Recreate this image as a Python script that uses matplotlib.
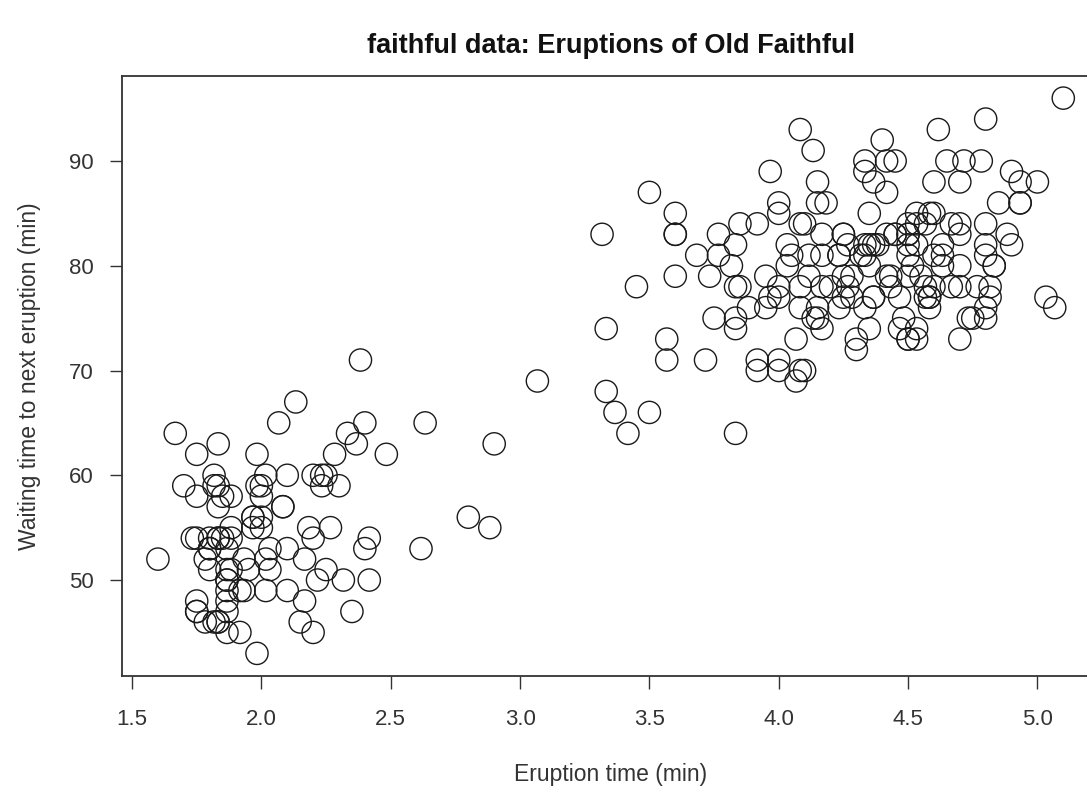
import matplotlib
matplotlib.use("Agg")
import matplotlib.pyplot as plt

eruptions = [3.600,1.800,3.333,2.283,4.533,2.883,4.700,3.600,1.950,4.350,1.833,3.917,4.200,1.750,4.700,2.167,1.750,4.800,1.600,4.250,
1.800,1.750,3.450,3.067,4.533,3.600,1.967,4.083,3.850,4.433,4.300,4.467,3.367,4.033,3.833,2.017,1.867,4.833,1.833,4.783,
4.350,1.883,4.567,1.750,4.533,3.317,3.833,2.100,4.633,2.000,4.800,4.716,1.833,4.833,1.733,4.883,3.717,1.667,4.567,4.317,
2.233,4.500,1.750,4.800,1.817,4.400,4.167,4.700,2.067,4.700,4.033,1.967,4.500,4.000,1.983,5.067,2.017,4.567,3.883,3.600,
4.133,4.333,4.100,2.633,4.067,4.933,3.950,4.517,2.167,4.000,2.200,4.333,1.867,4.817,1.833,4.300,4.667,3.750,1.867,4.900,
2.483,4.367,2.100,4.500,4.050,1.867,4.700,1.783,4.850,3.683,4.733,2.300,4.900,4.417,1.700,4.633,2.317,4.600,1.817,4.417,
2.617,4.067,4.250,1.967,4.600,3.767,1.917,4.500,2.267,4.650,1.867,4.167,2.800,4.333,1.833,4.383,1.883,4.933,2.033,3.733,
4.233,2.233,4.533,4.817,4.333,1.983,4.633,2.017,5.100,1.800,5.033,4.000,2.400,4.600,3.567,4.000,4.500,4.083,1.800,3.967,
2.200,4.150,2.000,3.833,3.500,4.583,2.367,5.000,1.933,4.617,1.917,2.083,4.583,3.333,4.167,4.333,4.500,2.417,4.000,4.167,
1.883,4.583,4.250,3.767,2.033,4.433,4.083,1.833,4.417,2.183,4.800,1.833,4.800,4.100,3.966,4.233,3.500,4.366,2.250,4.667,
2.100,4.350,4.133,1.867,4.600,1.783,4.367,3.850,1.933,4.500,2.383,4.700,1.867,3.833,3.417,4.233,2.400,4.800,2.000,4.150,
1.867,4.267,1.750,4.483,4.000,4.117,4.083,4.267,3.917,4.550,4.083,2.417,4.183,2.217,4.450,1.883,1.850,4.283,3.950,2.333,
4.150,2.350,4.933,2.900,4.583,3.833,2.083,4.367,2.133,4.350,2.200,4.450,3.567,4.500,4.150,3.817,3.917,4.450,2.000,4.283,
4.767,4.533,1.850,4.250,1.983,2.250,4.750,4.117,2.150,4.417,1.817,4.467]
waiting = [79,54,74,62,85,55,88,85,51,85,54,84,78,47,83,52,62,84,52,79,
51,47,78,69,74,83,55,76,78,79,73,77,66,80,74,52,48,80,59,90,
80,58,84,58,73,83,64,53,82,59,75,90,54,80,54,83,71,64,77,81,
59,84,48,82,60,92,78,78,65,73,82,56,79,71,62,76,60,78,76,83,
75,82,70,65,73,88,76,80,48,86,60,90,50,78,63,72,84,75,51,82,
62,88,49,83,81,47,84,52,86,81,75,59,89,79,59,81,50,85,59,87,
53,69,77,56,88,81,45,82,55,90,45,83,56,89,46,82,51,86,53,79,
81,60,82,77,76,59,80,49,96,53,77,77,65,81,71,70,81,93,53,89,
45,86,58,78,66,76,63,88,52,93,49,57,77,68,81,81,73,50,85,74,
55,77,83,83,51,78,84,46,83,55,81,57,76,84,77,81,87,77,51,78,
60,82,91,53,78,46,77,84,49,83,71,80,49,75,64,76,53,94,55,76,
50,82,54,75,78,79,78,78,70,79,70,54,86,50,90,54,54,77,79,64,
75,47,86,63,85,82,57,82,67,74,54,83,73,73,88,80,71,83,56,79,
78,84,58,83,43,60,75,81,46,90,46,74]

title = "faithful data: Eruptions of Old Faithful"
xlabel = "Eruption time (min)"
ylabel = "Waiting time to next eruption (min)"
xticks = [1.5, 2.0, 2.5, 3.0, 3.5, 4.0, 4.5, 5.0]
yticks = [50, 60, 70, 80, 90]

plt.rcParams['font.family'] = ['Liberation Sans', 'DejaVu Sans']

W, H = 1087, 790
fig = plt.figure(figsize=(W/100, H/100), dpi=100)
L, R, T, B = 121.7, 1099.5, 75.9, 675.6
ax = fig.add_axes([L/W, 1 - B/H, (R-L)/W, (B-T)/H])

ax.scatter(eruptions, waiting, s=16**2, facecolors='none', edgecolors='#1a1a1a', linewidths=1.0)

xmin, xmax = min(eruptions), max(eruptions)
ymin, ymax = min(waiting), max(waiting)
dx, dy = (xmax-xmin)*0.04, (ymax-ymin)*0.04
ax.set_xlim(xmin-dx, xmax+dx)
ax.set_ylim(ymin-dy, ymax+dy)

ax.set_xticks(xticks)
ax.set_xticklabels([f"{v:.1f}" for v in xticks])
ax.set_yticks(yticks)
ax.set_yticklabels([str(v) for v in yticks])
ax.tick_params(direction='out', length=9, width=1.0, color='#333333', labelsize=16, labelcolor='#333333')
ax.tick_params(axis='x', pad=15)
ax.tick_params(axis='y', pad=11)
for s in ax.spines.values():
    s.set_linewidth(1.3)
    s.set_color('#333333')

fig.text((L+R)/2/W, 1-46/H, title, ha='center', va='center', fontsize=19.5, fontweight='bold', color='#111111')
fig.text((L+R)/2/W, 1-775/H, xlabel, ha='center', va='center', fontsize=16.5, color='#333333')
fig.text(30/W, 1-(T+B)/2/H, ylabel, ha='center', va='center', rotation=90, fontsize=16.5, color='#333333')

fig.savefig("out.png", dpi=100)
